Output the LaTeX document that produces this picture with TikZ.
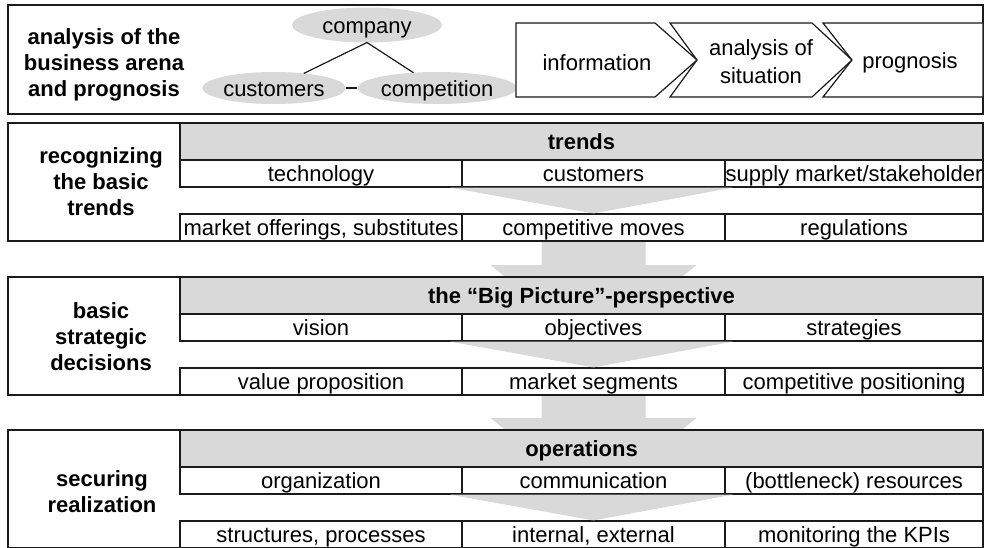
\documentclass[tikz,border=0pt]{standalone}
\usepackage{fontspec}
\setmainfont{Liberation Sans}
\usepackage{tikz}
\usetikzlibrary{positioning,shapes.geometric,calc,backgrounds}

\definecolor{boxgray}{HTML}{D9D9D9}
\definecolor{linegray}{HTML}{1A1A1A}
\newcommand{\diagramfont}{\fontsize{22}{26}\selectfont}

\begin{document}
\begin{tikzpicture}[x=1pt, y=-1pt, font=\diagramfont,
    every node/.style={inner sep=0pt, outer sep=0pt},
    frame/.style={draw=linegray, line width=1.2pt, fill=white, anchor=north west, minimum width=975pt},
    header/.style={draw=linegray, line width=1.2pt, fill=boxgray, anchor=north west, minimum width=803pt, minimum height=37pt, font=\diagramfont\bfseries, text height=17pt, text depth=1pt},
    cell/.style={draw=linegray, line width=1.2pt, fill=white, minimum height=27pt, text height=17pt, text depth=1pt},
    stage/.style={font=\diagramfont\bfseries, align=center},
    oval/.style={ellipse, fill=boxgray, minimum height=32pt, text height=17pt, text depth=1pt},
    chev/.style={draw=linegray, line width=1.2pt, fill=white},
    link/.style={draw=linegray, line width=1.2pt},
    flow/.style={fill=boxgray}]
    \useasboundingbox (0,0) rectangle (988,547);

    % analysis of the business arena
    \node [frame, minimum height=109pt] (arena) at (8,5) {};
    \node [stage] (arenalabel) at (104,65) {analysis of the\\business arena\\and prognosis};
    \node [oval, minimum width=150pt, minimum height=35pt] (company) at (367,25) {company};
    \node [oval, minimum width=142pt] (clients) at (274,88) {customers};
    \node [oval, minimum width=149pt] (rivals) at (437,88) {competition};
    \draw [link] (company.south) -- (clients);
    \draw [link] (company.south) -- (rivals);
    \draw [link] (clients) -- (rivals);

    \draw [chev] (516,23) -- (655,23) -- (697,60) -- (655,97) -- (516,97) -- cycle;
    \draw [chev] (670,23) -- (812,23) -- (852,60) -- (812,97) -- (670,97) -- (697,60) -- cycle;
    \draw [chev] (823,23) -- (983,23) -- (983,97) -- (823,97) -- (852,60) -- cycle;
    \node (information) at (597,63) {information};
    \node [align=center] (situation) at (761,62) {analysis of\\[2pt]situation};
    \node (prognosis) at (910,63) {prognosis};

    % recognizing the basic trends
    \node [frame, minimum height=118pt] (recog) at (8,123) {};
    \node [stage] (recoglabel) at (101,182) {recognizing\\the basic\\trends};
    \node [header] (trends) at (180,123) {trends};
    \node [cell, minimum width=282pt, below right=0pt of trends.south west] (technology) {technology};
    \node [cell, minimum width=263pt, right=0pt of technology] (customers) {customers};
    \node [cell, minimum width=258pt, right=0pt of customers] (supply) {supply market/stakeholder};
    \node [cell, minimum width=282pt, below=27pt of technology] (offerings) {market offerings, substitutes};
    \node [cell, minimum width=263pt, right=0pt of offerings] (moves) {competitive moves};
    \node [cell, minimum width=258pt, right=0pt of moves] (regulations) {regulations};
    \fill [flow] ($(customers.south west)+(-12,0.6)$) -- ($(customers.south east)+(8,0.6)$) -- ($(moves.north)+(0,-0.6)$) -- cycle;

    % basic strategic decisions
    \node [frame, minimum height=118pt] (strat) at (8,277) {};
    \node [stage] (stratlabel) at (101,337) {basic\\strategic\\decisions};
    \node [header] (bigpic) at (180,277) {the “Big Picture”-perspective};
    \node [cell, minimum width=282pt, below right=0pt of bigpic.south west] (vision) {vision};
    \node [cell, minimum width=263pt, right=0pt of vision] (objectives) {objectives};
    \node [cell, minimum width=258pt, right=0pt of objectives] (strategies) {strategies};
    \node [cell, minimum width=282pt, below=27pt of vision] (value) {value proposition};
    \node [cell, minimum width=263pt, right=0pt of value] (segments) {market segments};
    \node [cell, minimum width=258pt, right=0pt of segments] (positioning) {competitive positioning};
    \fill [flow] ($(objectives.south west)+(-12,0.6)$) -- ($(objectives.south east)+(8,0.6)$) -- ($(segments.north)+(0,-0.6)$) -- cycle;

    % securing realization
    \node [frame, minimum height=118pt] (real) at (8,430) {};
    \node [stage] (reallabel) at (102,492) {securing\\realization};
    \node [header] (operations) at (180,430) {operations};
    \node [cell, minimum width=282pt, below right=0pt of operations.south west] (organization) {organization};
    \node [cell, minimum width=263pt, right=0pt of organization] (communication) {communication};
    \node [cell, minimum width=258pt, right=0pt of communication] (resources) {(bottleneck) resources};
    \node [cell, minimum width=282pt, below=27pt of organization] (structures) {structures, processes};
    \node [cell, minimum width=263pt, right=0pt of structures] (internal) {internal, external};
    \node [cell, minimum width=258pt, right=0pt of internal] (kpis) {monitoring the KPIs};
    \fill [flow] ($(communication.south west)+(-12,0.6)$) -- ($(communication.south east)+(8,0.6)$) -- ($(internal.north)+(0,-0.6)$) -- cycle;

    % arrows between the stages
    \begin{scope}[on background layer]
        \path (moves.south) coordinate (flowA) (moves.south |- bigpic.north) coordinate (flowB);
        \path (segments.south) coordinate (flowC) (segments.south |- operations.north) coordinate (flowD);
        \fill [flow] ($(flowA)+(-52,-5)$) -- ($(flowB)+(-52,-12)$) -- ($(flowB)+(-103,-12)$) -- ($(flowB)+(0,71)$)
            -- ($(flowB)+(103,-12)$) -- ($(flowB)+(52,-12)$) -- ($(flowA)+(52,-5)$) -- cycle;
        \fill [flow] ($(flowC)+(-52,-5)$) -- ($(flowD)+(-52,-12)$) -- ($(flowD)+(-103,-12)$) -- ($(flowD)+(0,71)$)
            -- ($(flowD)+(103,-12)$) -- ($(flowD)+(52,-12)$) -- ($(flowC)+(52,-5)$) -- cycle;
    \end{scope}
\end{tikzpicture}
\end{document}
